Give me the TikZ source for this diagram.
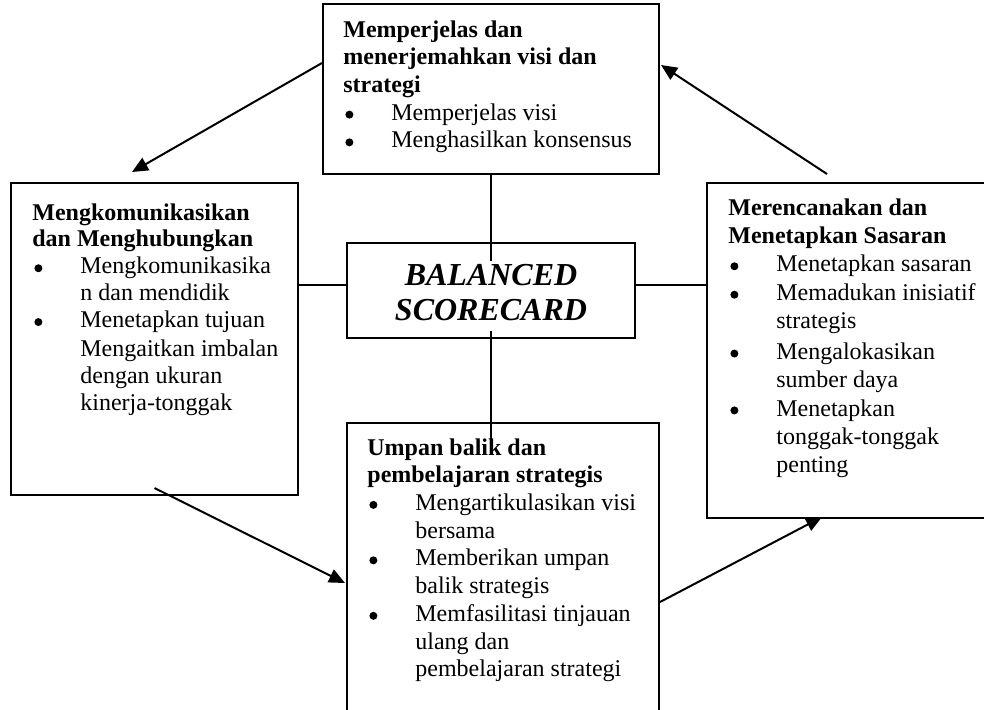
\documentclass[tikz,border=0pt]{standalone}
\usepackage{fontspec}
\setmainfont{Liberation Serif}
\usetikzlibrary{calc,arrows.meta}
\newcommand\bul{\makebox[24pt][l]{\hspace*{1pt}\tikz[baseline=0pt]\fill[black] (0pt,2.8pt) circle (2pt);}}
\begin{document}
\begin{tikzpicture}[x=0.5pt,y=-0.5pt,
  box/.style={draw, line width=1pt, inner sep=0pt},
  con/.style={line width=1pt},
  arr/.style={line width=1pt, -{Triangle[length=8pt,width=7pt]}},
  txt/.style={anchor=base west, inner sep=0pt, align=left, font=\fontsize{12}{13.8}\selectfont}]
\useasboundingbox (0,0) rectangle (984,709);
\clip (0,0) rectangle (984,709);
% boxes
\node[box, minimum width=168pt, minimum height=85pt] (vision) at (491,89) {};
\node[box, minimum width=143.5pt, minimum height=156pt] (comm) at (154.5,339) {};
\node[box, minimum width=150pt, minimum height=167.5pt] (plan) at (857,350.5) {};
\node[box, minimum width=156pt, minimum height=160pt] (fb) at (503,583) {};
\node[box, minimum width=144pt, minimum height=47.5pt] (bsc) at (491,290.5) {};
% plain connectors
\coordinate (vend) at (491,447);
\coordinate (hl) at (0,285);
\draw[con] (vision.south) -- (vend);
\draw[con] (comm.east |- hl) -- (bsc.west |- hl);
\draw[con] (bsc.east |- hl) -- (plan.west |- hl);
% centre text
\node[fill=white, inner sep=0pt, anchor=base, font=\fontsize{16}{17.5}\selectfont\bfseries\itshape] (bsctext) at (491,285)
  {\begin{tabular}[t]{@{}c@{}}BALANCED\\SCORECARD\end{tabular}};
% arrows
\draw[arr] ($(vision.west)+(0,-26)$) -- ($(comm.north)+(-22.5,-10)$);
\draw[arr] ($(plan.north)+(-30,-8)$) -- ($(vision.east)+(1,-24)$);
\draw[arr] ($(comm.south)+(0,-8)$) -- ($(fb.west)+(-1,0)$);
\draw[arr] ($(fb.east)+(0,19)$) -- ($(plan.south)+(-35,-2)$);
% box texts
\node[txt] (visiontext) at (343,37) {\renewcommand\arraystretch{1.005}%
  \begin{tabular}[t]{@{}l@{}l@{}}
  \multicolumn{2}{@{}l@{}}{\textbf{Memperjelas dan}}\\
  \multicolumn{2}{@{}l@{}}{\textbf{menerjemahkan visi dan}}\\
  \multicolumn{2}{@{}l@{}}{\textbf{strategi}}\\
  \bul & Memperjelas visi\\
  \bul & Menghasilkan konsensus
  \end{tabular}};
\node[txt] (commtext) at (32,220) {\renewcommand\arraystretch{0.975}%
  \begin{tabular}[t]{@{}l@{}l@{}}
  \multicolumn{2}{@{}l@{}}{\textbf{Mengkomunikasikan}}\\
  \multicolumn{2}{@{}l@{}}{\textbf{dan Menghubungkan}}\\
  \bul & Mengkomunikasika\\
   & n dan mendidik\\
  \bul & Menetapkan tujuan\\[1pt]
   & Mengaitkan imbalan\\
   & dengan ukuran\\
   & kinerja-tonggak
  \end{tabular}};
\node[txt] (plantext) at (728,215) {\renewcommand\arraystretch{1.03}%
  \begin{tabular}[t]{@{}l@{}l@{}}
  \multicolumn{2}{@{}l@{}}{\textbf{Merencanakan dan}}\\
  \multicolumn{2}{@{}l@{}}{\textbf{Menetapkan Sasaran}}\\
  \bul & Menetapkan sasaran\\
  \bul & Memadukan inisiatif\\
   & strategis\\[1pt]
  \bul & Mengalokasikan\\
   & sumber daya\\
  \bul & Menetapkan\\
   & tonggak-tonggak\\
   & penting
  \end{tabular}};
\node[txt] (fbtext) at (367,455) {\renewcommand\arraystretch{1.005}%
  \begin{tabular}[t]{@{}l@{}l@{}}
  \multicolumn{2}{@{}l@{}}{\textbf{Umpan balik dan}}\\
  \multicolumn{2}{@{}l@{}}{\textbf{pembelajaran strategis}}\\
  \bul & Mengartikulasikan visi\\
   & bersama\\
  \bul & Memberikan umpan\\
   & balik strategis\\
  \bul & Memfasilitasi tinjauan\\
   & ulang dan\\
   & pembelajaran strategi
  \end{tabular}};
\end{tikzpicture}
\end{document}
